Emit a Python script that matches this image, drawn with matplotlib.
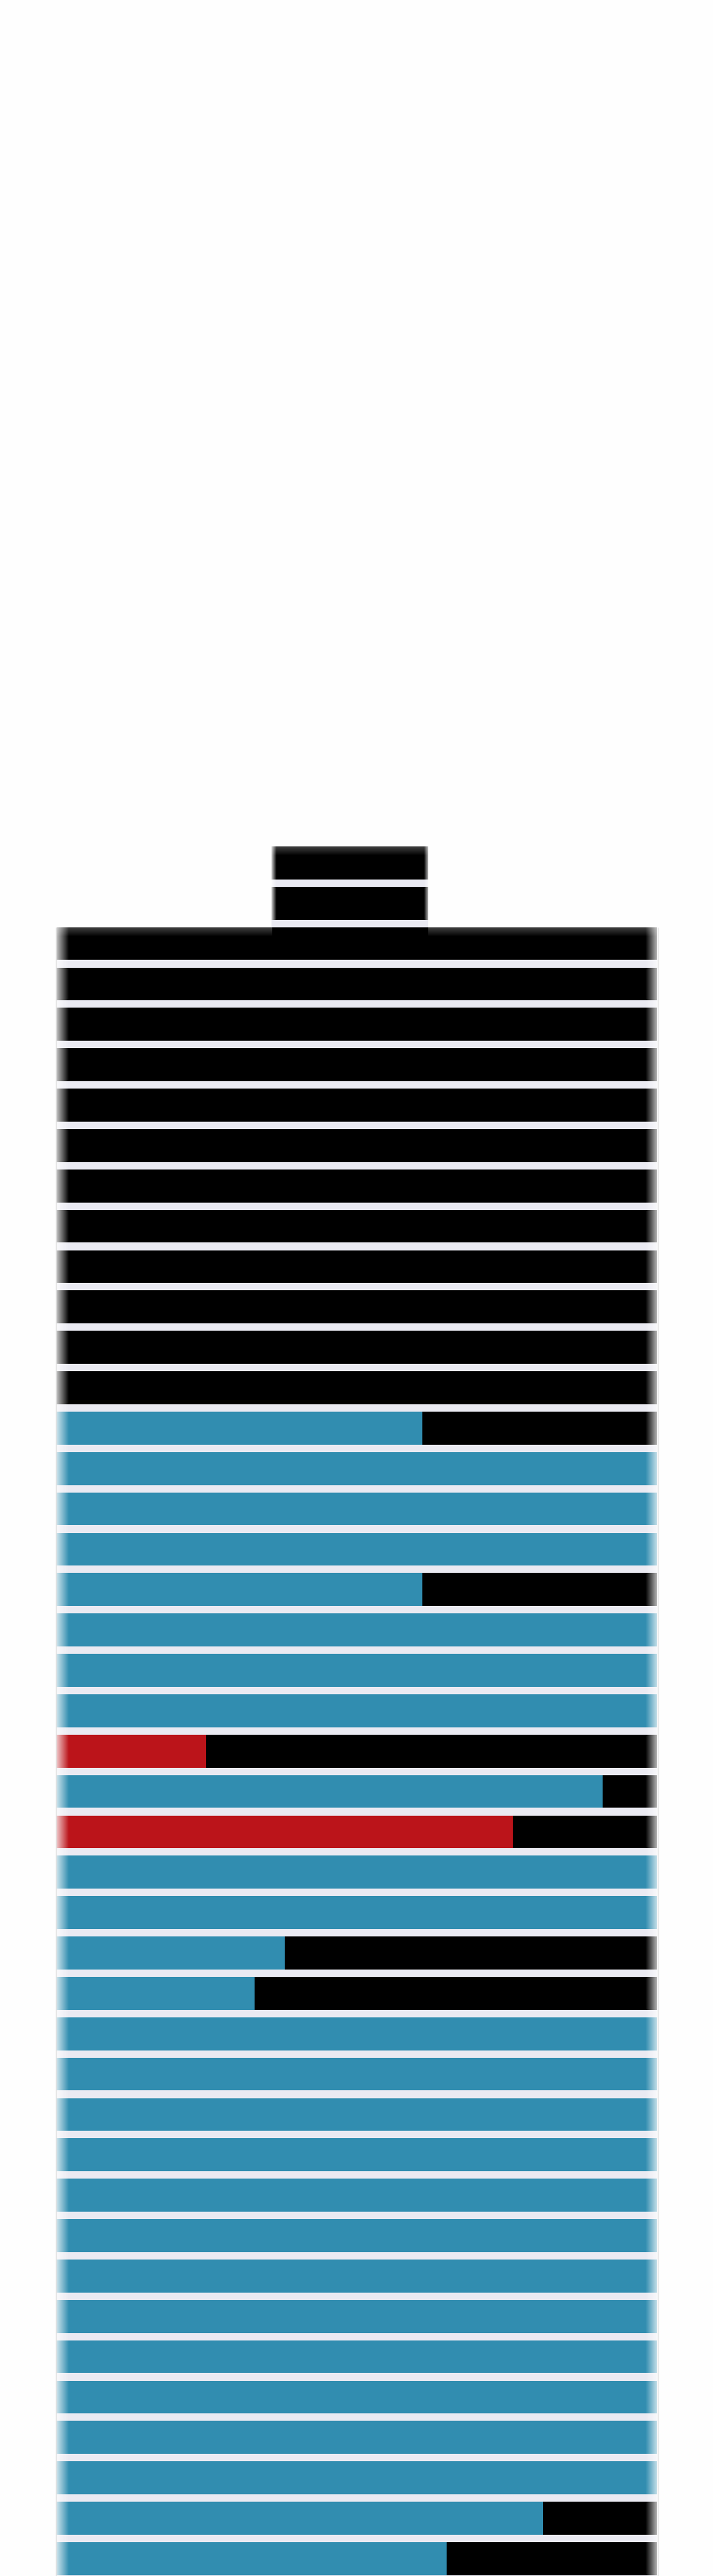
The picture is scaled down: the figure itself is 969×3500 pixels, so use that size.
#!/usr/bin/env python3
"""Stacked horizontal bars, each row blurred at the outer edges."""
import numpy as np
import matplotlib
matplotlib.use("Agg")
import matplotlib.pyplot as plt

# percent of the full row width, one entry per row from the top
row_start = [35.8, 35.8] + [0] * 41
row_end = [61.9, 61.9] + [100] * 41
row_filled = [0] * 14 + [60.9, 100, 100, 100, 60.9, 100, 100, 100,
                         24.9, 90.9, 76.0, 100, 100, 38.0, 33.0] + [100] * 12 + [81.0, 65.0]
row_status = ["none"] * 14 + ["ok"] * 8 + ["bad", "ok", "bad"] + ["ok"] * 18

STATUS_COLORS = {"none": "#000000", "ok": "#318DB0", "bad": "#BB141A"}
BACK_COLOR = "#000000"
GAP_COLOR = "#EAEAF2"
PAGE_COLOR = "#FEFEFE"


def white_fade(ax, alpha, extent):
    """Lay a white layer over the bars, alpha is a 2D array of opacities."""
    rgba = np.ones(alpha.shape + (4,))
    rgba[..., 3] = alpha
    ax.imshow(rgba, extent=extent, aspect="auto", origin="upper",
              interpolation="bilinear", zorder=5)


def generate_chart(output_path="out.png"):
    fig = plt.figure(figsize=(9.7, 35), dpi=100, facecolor=PAGE_COLOR)
    ax = fig.add_axes([77 / 970, 0, 816 / 970, 1])
    ax.set_facecolor(PAGE_COLOR)

    rows = np.arange(len(row_filled))
    start = np.array(row_start, dtype=float)
    end = np.array(row_end, dtype=float)
    filled = np.array(row_filled, dtype=float)
    colors = [STATUS_COLORS[s] for s in row_status]

    # light strip below each row, then the black track, then the filled part
    ax.barh(rows + 0.5, end - start, left=start, height=1.0, color=GAP_COLOR, zorder=1)
    ax.barh(rows, end - start, left=start, height=0.815, color=BACK_COLOR, zorder=2)
    ax.barh(rows, filled, left=start, height=0.815, color=colors, zorder=3)

    ax.vlines([-0.1, 100.1], 1.6, 43, color="#E2E2E2", linewidth=1, zorder=6, clip_on=False)

    # blurred edges
    ramp = np.linspace(0.75, 0, 32).reshape(1, -1)
    white_fade(ax, ramp, (0, 2.0, 43, 1.6))
    white_fade(ax, ramp[:, ::-1], (98.0, 100, 43, 1.6))

    small = np.linspace(0.8, 0, 16).reshape(1, -1)
    white_fade(ax, small, (35.8, 36.6, 1.41, -0.41))
    white_fade(ax, small[:, ::-1], (61.1, 61.9, 1.41, -0.41))

    top = np.linspace(0.27, 0, 16).reshape(-1, 1)
    white_fade(ax, top, (35.8, 61.9, -0.17, -0.41))
    white_fade(ax, top, (0, 35.8, 1.83, 1.59))
    white_fade(ax, top, (61.9, 100, 1.83, 1.59))

    ax.set_xlim(0, 100)
    ax.set_ylim(42.43, -21.37)
    ax.axis("off")

    fig.savefig(output_path, dpi=100, facecolor=PAGE_COLOR)
    plt.close(fig)


if __name__ == "__main__":
    generate_chart()
